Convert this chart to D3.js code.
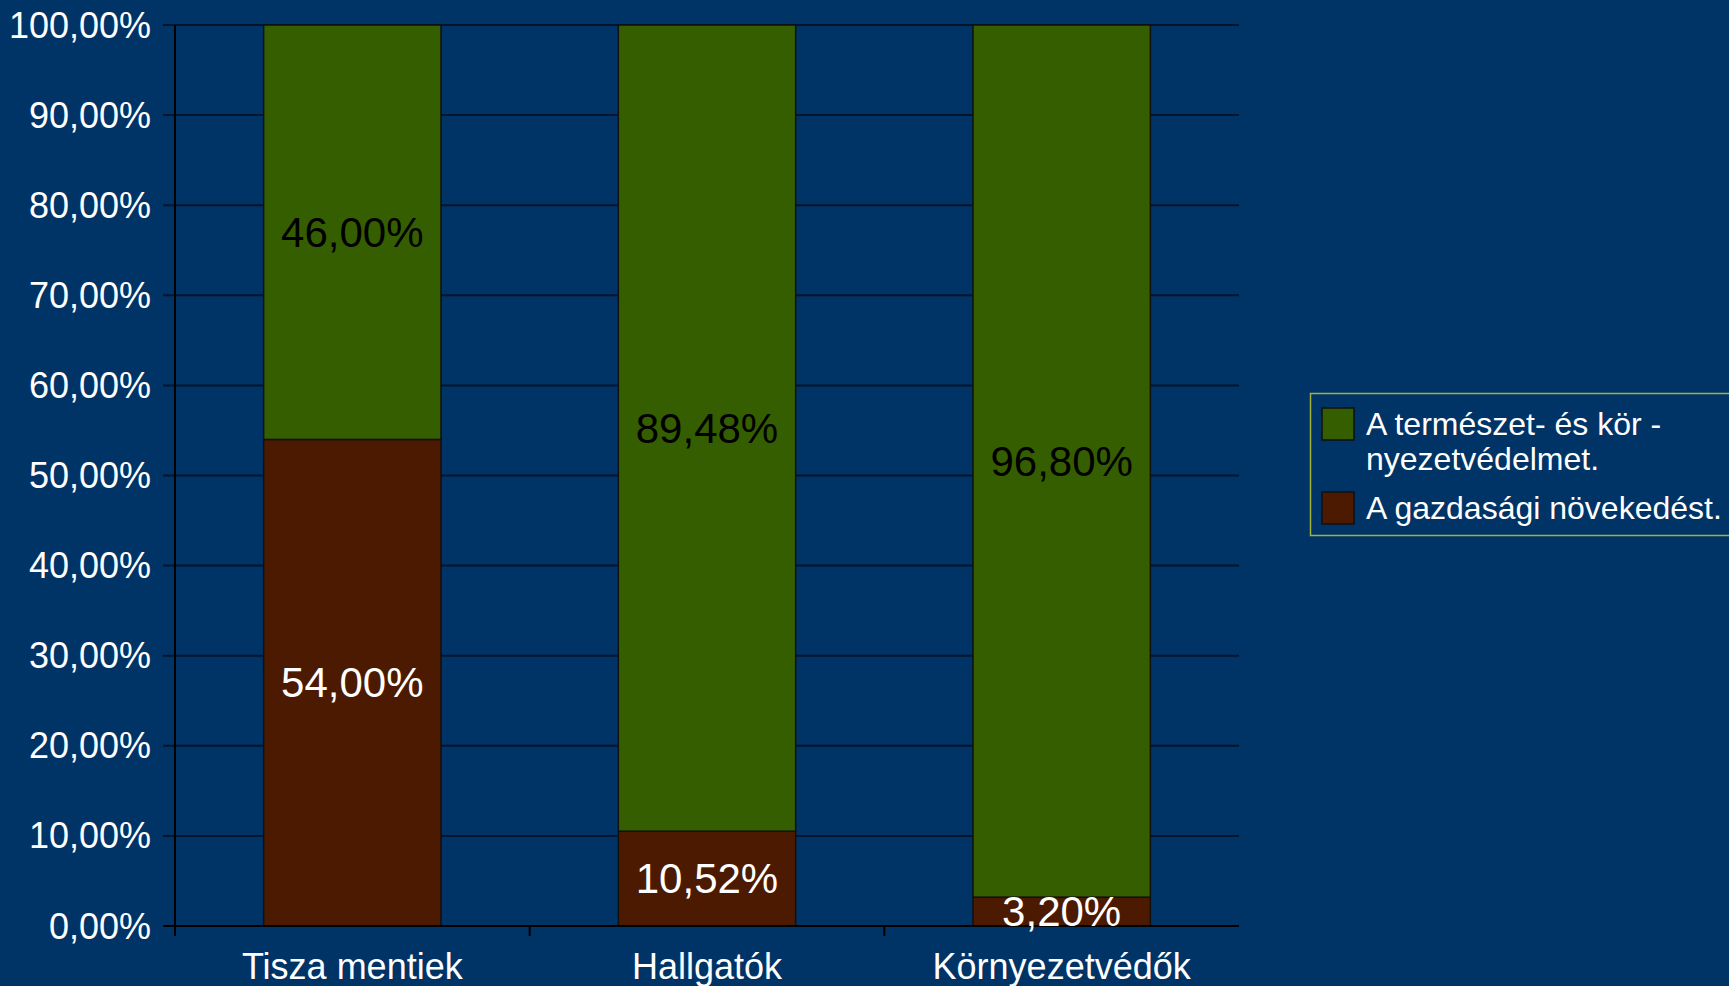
<!DOCTYPE html>
<html><head><meta charset="utf-8">
<script src="https://cdn.jsdelivr.net/npm/d3@7"></script>
<style>
html,body{margin:0;padding:0;background:#003366;overflow:hidden;}
svg{display:block;font-family:"Liberation Sans",Arial,Helvetica,sans-serif;}
</style></head>
<body>
<svg id="chart" width="1729" height="986"></svg>
<script>
const categories = ["Tisza mentiek", "Hallgatók", "Környezetvédők"];
const gazdasagi = [54.00, 10.52, 3.20];
const termeszet = [46.00, 89.48, 96.80];
const seriesNames = ["A természet- és kör -|nyezetvédelmet.", "A gazdasági növekedést."];
const yTicks = [0,10,20,30,40,50,60,70,80,90,100];

(function(){
const colors = {bg:"#003366", green:"#355e00", brown:"#4b1a00", grid:"#04152b", legendBorder:"#a3b23c"};
const svg = d3.select("#chart");
svg.append("rect").attr("width",1729).attr("height",986).attr("fill",colors.bg);

const mLeft = 175, mRight = 1239, mTop = 25, mBottom = 926;
const x = d3.scaleBand().domain(categories).range([mLeft,mRight]).paddingInner(0.5).paddingOuter(0.25);
const y = d3.scaleLinear().domain([0,100]).range([mBottom,mTop]);
const fmt = v => d3.format(".2f")(v).replace(".", ",") + "%";

// gridlines
svg.append("g").selectAll("line").data(yTicks.filter(d=>d>0)).join("line")
  .attr("x1", mLeft-12).attr("x2", mRight)
  .attr("y1", d=>y(d)).attr("y2", d=>y(d))
  .attr("stroke", colors.grid).attr("stroke-width", 2);

// y labels
svg.append("g").selectAll("text").data(yTicks).join("text")
  .attr("x", 151).attr("y", d=>y(d)).attr("text-anchor","end").attr("dominant-baseline","central")
  .attr("fill","#fff").attr("font-size",36).text(d=>fmt(d));

const data = categories.map((c,i)=>({c, g:gazdasagi[i], t:termeszet[i]}));
const bars = svg.append("g");
bars.selectAll("rect.b").data(data).join("rect").attr("class","b")
  .attr("x", d=>x(d.c)).attr("width", x.bandwidth())
  .attr("y", d=>y(d.g)).attr("height", d=>y(0)-y(d.g))
  .attr("fill", colors.brown).attr("stroke","#111").attr("stroke-width",1.5);
bars.selectAll("rect.t").data(data).join("rect").attr("class","t")
  .attr("x", d=>x(d.c)).attr("width", x.bandwidth())
  .attr("y", d=>y(d.g+d.t)).attr("height", d=>y(d.g)-y(d.g+d.t))
  .attr("fill", colors.green).attr("stroke","#111").attr("stroke-width",1.5);

// axes lines
svg.append("line").attr("x1",mLeft).attr("x2",mLeft).attr("y1",mTop).attr("y2",mBottom+10)
  .attr("stroke","#000").attr("stroke-width",2);
svg.append("line").attr("x1",mLeft-12).attr("x2",mRight).attr("y1",mBottom).attr("y2",mBottom)
  .attr("stroke","#000").attr("stroke-width",2);
const step = x.step();
const tickXs = categories.slice(1).map(c => x(c) - (step - x.bandwidth())/2);
svg.append("g").selectAll("line").data(tickXs).join("line")
  .attr("x1",d=>d).attr("x2",d=>d).attr("y1",mBottom).attr("y2",mBottom+10)
  .attr("stroke","#000").attr("stroke-width",2);

// value labels
const lbl = svg.append("g").attr("font-size",42).attr("text-anchor","middle").attr("dominant-baseline","central");
lbl.selectAll("text.g").data(data).join("text").attr("class","g")
  .attr("x", d=>x(d.c)+x.bandwidth()/2).attr("y", d=>y(d.g/2))
  .attr("fill","#fff").text(d=>fmt(d.g));
lbl.selectAll("text.t").data(data).join("text").attr("class","t")
  .attr("x", d=>x(d.c)+x.bandwidth()/2).attr("y", d=>y(d.g + d.t/2))
  .attr("fill","#000").text(d=>fmt(d.t));

// category labels
svg.append("g").selectAll("text").data(categories).join("text")
  .attr("x", d=>x(d)+x.bandwidth()/2).attr("y", 979).attr("text-anchor","middle")
  .attr("fill","#fff").attr("font-size",36).text(d=>d);

// legend
const lg = svg.append("g");
lg.append("rect").attr("x",1310.5).attr("y",393.5).attr("width",430).attr("height",142)
  .attr("fill","none").attr("stroke",colors.legendBorder).attr("stroke-width",1.5);
const legendItems = [{name:seriesNames[0], color:colors.green, y:408},{name:seriesNames[1], color:colors.brown, y:492}];
legendItems.forEach(it=>{
  lg.append("rect").attr("x",1322).attr("y",it.y).attr("width",32).attr("height",32)
    .attr("fill",it.color).attr("stroke","#111").attr("stroke-width",1.5);
  it.name.split("|").forEach((ln,j)=>{
    lg.append("text").attr("x",1366).attr("y", it.y+27 + j*35).attr("fill","#fff")
      .attr("font-size",32).text(ln);
  });
});
})();
</script>
</body></html>
